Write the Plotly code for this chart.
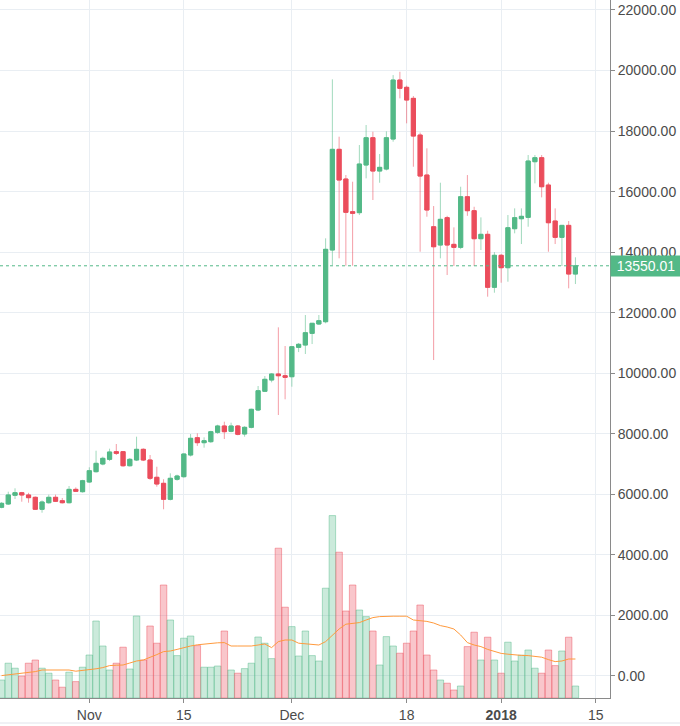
import plotly.graph_objects as go
import pandas as pd

dates = pd.date_range("2017-10-19", "2018-01-12", freq="D")

opens = [5572, 5681, 5969, 6055, 5979, 5902, 5506, 5724, 5902, 5790, 5724, 6165, 6088,
         6408, 6749, 7003, 7157, 7410, 7410, 6946, 7135, 7487, 7135, 6563, 6364, 5836, 6497, 6584, 7300,
         7871, 7707, 7740, 8049, 8258, 8082, 8258, 7994, 8214, 8786, 9404, 9777, 9975, 9919,
         9886, 10856, 10933, 11318, 11627, 11703, 14071, 17397, 16416, 15338, 15305, 16879, 17781, 16680,
         16746, 17737, 19686, 19445, 19081, 17869, 16548, 14840, 14236, 15140, 14258, 14159, 15832, 15370,
         14445, 14589, 12839,
         13896, 13487, 14775, 15105, 15150, 16989, 17121, 16217, 15029, 14489, 14885, 13278]
highs = [5740, 6088, 6200, 6080, 6050, 5930, 5800, 5990, 5990, 5880, 6276, 6230, 6480,
         6894, 7442, 7245, 7509, 7663, 7430, 7200, 7905, 7520, 7300, 6913, 6500, 6695, 6650, 7350, 7993,
         8016, 7884, 8100, 8300, 8400, 8368, 8290, 8250, 8830, 9579, 9909, 10000, 11517, 10900,
         10900, 11000, 11924, 11660, 11924, 14457, 19709, 17814, 16548, 16327, 17539, 18200, 17979, 17242,
         17990, 19851, 19960, 19500, 19158, 17950, 17430, 15524, 16294, 15200, 14820, 16162, 16548, 15500,
         15150, 14709, 14000,
         13939, 15227, 15447, 15447, 17209, 17209, 17209, 16294, 15447, 14900, 15029, 13830]
lows = [5540, 5650, 5846, 5757, 5724, 5483, 5394, 5690, 5750, 5700, 5700, 6080, 6060,
        6385, 6720, 6960, 7100, 7300, 6913, 6920, 7100, 7100, 6474, 6253, 5506, 5800, 6450, 6550, 7250,
        7600, 7541, 7700, 8000, 7828, 8050, 7950, 7905, 8180, 8750, 9380, 9700, 8621, 9140,
        9556, 10700, 10636, 10966, 11600, 11650, 13576, 13797, 13553, 13553, 15227, 16439, 15723, 16294,
        16700, 17649, 19081, 18256, 16823, 14015, 15171, 10437, 13797, 13245, 13543, 14100, 15200, 13543,
        14071, 12529, 12661,
        12991, 13024, 14622, 14269, 14840, 16272, 15811, 14015, 14269, 13543, 12806, 12948]
closes = [5704, 5979, 6055, 5979, 5890, 5506, 5747, 5902, 5770, 5724, 6165, 6100, 6451,
          6781, 7025, 7190, 7399, 7355, 6946, 7157, 7487, 7135, 6530, 6342, 5836, 6530, 6606, 7333, 7851,
          7707, 7772, 8070, 8258, 8070, 8258, 7983, 8214, 8809, 9423, 9800, 9975, 9919, 9866,
          10877, 10956, 11340, 11650, 11736, 14094, 17397, 16383, 15316, 15283, 16912, 17781, 16680, 16802,
          17781, 19686, 19412, 19026, 17836, 16515, 15393, 14180, 15085, 14236, 14159, 15832, 15370, 14445,
          14589, 12839, 13896,
          13487, 14808, 15140, 15184, 17011, 17121, 16162, 14973, 14489, 14885, 13278, 13550.01]
volumes = [9.0, 17.4, 14.9, 11.0, 17.4, 19.0, 14.9, 12.4, 9.0, 5.4, 12.9, 8.2, 15.4,
           21.5, 38.5, 26.0, 14.0, 17.4, 25.4, 14.5, 41.0, 19.0, 36.0, 27.4, 56.5, 39.0, 21.2, 29.9, 31.0,
           26.2, 15.4, 15.4, 16.0, 33.5, 14.0, 12.4, 14.7, 17.4, 30.5, 27.4, 19.7, 74.9, 45.4,
           35.7, 21.0, 33.5, 21.2, 18.5, 54.9, 91.2, 72.9, 43.5, 56.5, 44.0, 40.7, 33.5, 16.5,
           30.7, 26.0, 22.4, 27.4, 33.5, 46.5, 21.5, 14.0, 9.0, 7.4, 4.0, 6.0, 25.7, 32.9,
           19.0, 30.4, 19.0,
           12.4, 27.9, 18.5, 21.4, 24.0, 14.9, 12.4, 24.0, 16.2, 23.5, 30.4, 6.0]
volume_ma = [11.2, 11.6, 12.0, 12.4, 12.8, 13.2, 14.0, 14.0, 14.0, 14.0, 14.0, 13.4, 13.7,
             14.0, 14.6, 15.2, 16.2, 16.4, 16.5, 17.5, 18.5, 19.0, 20.2, 21.7, 23.2, 23.5, 24.3, 25.2, 26.0,
             26.6, 27.0, 27.3, 27.6, 27.7, 26.0, 26.0, 26.0, 26.0, 26.5, 27.0, 25.2, 28.2, 29.0,
             29.0, 27.4, 27.2, 27.0, 26.5, 28.2, 31.5, 34.5, 36.9, 37.3, 37.7, 39.0, 40.2, 40.7,
             40.9, 40.9, 40.9, 40.9, 39.0, 38.7, 38.3, 37.5, 36.2, 35.5, 34.5, 31.5, 27.7, 26.5,
             25.7, 24.3, 23.2,
             22.3, 21.9, 21.5, 21.3, 21.2, 20.8, 20.4, 19.2, 18.2, 18.5, 19.5, 19.5]

last_price = 13550.01
tick_dates = ["2017-11-01", "2017-11-15", "2017-12-01", "2017-12-18", "2018-01-01", "2018-01-15"]
tick_text = ["Nov", "15", "Dec", "18", "<b>2018</b>", "15"]
price_ticks = list(range(0, 22001, 2000))

UP = "#53b987"
DOWN = "#eb4d5c"
FONT = "Liberation Sans, Arial, sans-serif"

up_flags = [c >= o for o, c in zip(opens, closes)]
vol_fill = ["rgba(83,185,135,0.30)" if u else "rgba(235,77,92,0.32)" for u in up_flags]
vol_line = ["rgba(83,185,135,0.45)" if u else "rgba(235,77,92,0.45)" for u in up_flags]

body_hi = [max(o, c) for o, c in zip(opens, closes)]
body_lo = [min(o, c) for o, c in zip(opens, closes)]

fig = go.Figure()

# wicks (lighter)
fig.add_trace(go.Candlestick(
    x=dates, open=opens, high=highs, low=lows, close=closes,
    increasing=dict(line=dict(color="rgba(83,185,135,0.55)", width=1), fillcolor="rgba(0,0,0,0)"),
    decreasing=dict(line=dict(color="rgba(235,77,92,0.55)", width=1), fillcolor="rgba(0,0,0,0)"),
    whiskerwidth=0, hoverinfo="skip", showlegend=False,
))
# bodies
fig.add_trace(go.Candlestick(
    x=dates, open=opens, high=body_hi, low=body_lo, close=closes,
    increasing=dict(line=dict(color=UP, width=1), fillcolor=UP),
    decreasing=dict(line=dict(color=DOWN, width=1), fillcolor=DOWN),
    whiskerwidth=0, showlegend=False,
))

fig.add_trace(go.Bar(
    x=dates, y=volumes, yaxis="y2",
    marker=dict(color=vol_fill, line=dict(color=vol_line, width=1)),
    showlegend=False,
))
fig.add_trace(go.Scatter(
    x=dates, y=volume_ma, yaxis="y2", mode="lines",
    line=dict(color="#ff9a3d", width=1), showlegend=False,
))

fig.add_shape(type="line", xref="paper", x0=0, x1=1, yref="y", y0=last_price, y1=last_price,
              line=dict(color=UP, width=1, dash="dot"))
fig.add_shape(type="line", xref="paper", x0=0, x1=680 / 610, yref="paper", y0=-25 / 698, y1=-25 / 698,
              line=dict(color="#e0e3eb", width=1))

fig.add_annotation(xref="paper", x=1, xanchor="left", yref="y", y=last_price, yanchor="middle",
                   text="13550.01", showarrow=False, bgcolor=UP, font=dict(color="white", size=14, family=FONT),
                   width=64, height=14, borderpad=3, align="center")

fig.update_layout(
    width=680, height=726,
    margin=dict(l=0, r=70, t=0, b=28),
    paper_bgcolor="white", plot_bgcolor="white",
    boxgap=0.12, bargap=0.04, boxmode="overlay",
    font=dict(family=FONT, color="#4b4b4b", size=14),
    xaxis=dict(
        type="date", range=["2017-10-18 18:34", "2018-01-17 02:53"],
        rangeslider=dict(visible=False),
        tickvals=tick_dates, ticktext=tick_text,
        showgrid=True, gridcolor="#e9eef3", gridwidth=1,
        showline=True, linecolor="#8a8a8a", linewidth=1,
        ticks="outside", ticklen=4, tickcolor="#8a8a8a",
        zeroline=False, fixedrange=True,
    ),
    yaxis=dict(
        side="right", range=[-727, 22330],
        tickvals=price_ticks, tickformat=".2f",
        showgrid=True, gridcolor="#e9eef3", gridwidth=1,
        showline=True, linecolor="#8a8a8a", linewidth=1,
        ticks="outside", ticklen=4, tickcolor="#8a8a8a",
        zeroline=False,
    ),
    yaxis2=dict(overlaying="y", range=[0, 349], visible=False, showgrid=False),
)

fig.write_html("out.html")
